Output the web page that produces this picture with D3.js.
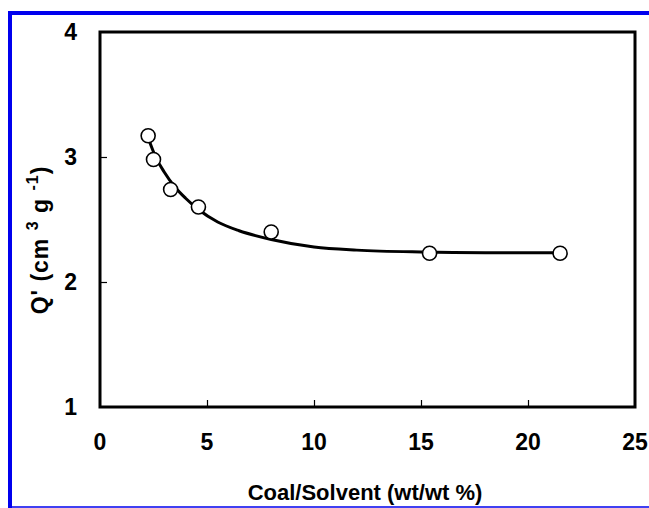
<!DOCTYPE html>
<html>
<head>
<meta charset="utf-8">
<script src="https://cdn.jsdelivr.net/npm/d3@7"></script>
<style>
  body { margin: 0; background: #fff; }
  text { font-family: "Liberation Sans", Arial, sans-serif; font-weight: bold; }
</style>
</head>
<body>
<div id="chart"></div>
<script>
// measured points
var ratio = [2.25, 2.5, 3.3, 4.6, 8.0, 15.4, 21.5];
var qPrime = [3.17, 2.98, 2.74, 2.60, 2.40, 2.23, 2.23];

// fitted curve
var fitX = [2.3, 2.6, 3.0, 3.5, 4.0, 4.6, 5.5, 6.5, 8.0, 10, 12, 15, 18, 21.5];
var fitY = [3.13, 3.00, 2.88, 2.76, 2.67, 2.58, 2.48, 2.41, 2.34, 2.28, 2.255, 2.24, 2.235, 2.235];

var xTicks = [0, 5, 10, 15, 20, 25];
var yTicks = [1, 2, 3, 4];

function main(){
    var canvasWidth = 649;
    var canvasHeight = 508;

    var svg = d3.select("#chart").append("svg")
        .attr("width", canvasWidth)
        .attr("height", canvasHeight);

    // blue frame of the figure
    svg.append("line").attr("x1", 8).attr("x2", canvasWidth).attr("y1", 13).attr("y2", 13)
        .attr("stroke", "#0000ee").attr("stroke-width", 4);
    svg.append("line").attr("x1", 10).attr("x2", 10).attr("y1", 11).attr("y2", canvasHeight)
        .attr("stroke", "#0000ee").attr("stroke-width", 4);
    svg.append("line").attr("x1", 8).attr("x2", canvasWidth).attr("y1", 507).attr("y2", 507)
        .attr("stroke", "#0000ee").attr("stroke-width", 1.5);

    var left = 100, right = 635, top = 32, bottom = 407;

    var xScale = d3.scaleLinear().domain([0, 25]).range([left, right]);
    var yScale = d3.scaleLinear().domain([1, 4]).range([bottom, top]);

    // inner ticks
    svg.append("g")
        .attr("transform", "translate(0," + bottom + ")")
        .call(d3.axisTop(xScale).tickValues(xTicks.slice(1, -1)).tickSize(7).tickFormat(""))
        .call(g => g.select(".domain").remove())
        .selectAll("line").attr("stroke-width", 1.2);

    svg.append("g")
        .attr("transform", "translate(" + left + ",0)")
        .call(d3.axisRight(yScale).tickValues(yTicks.slice(1, -1)).tickSize(7).tickFormat(""))
        .call(g => g.select(".domain").remove())
        .selectAll("line").attr("stroke-width", 1.2);

    // plot frame
    svg.append("rect")
        .attr("x", left).attr("y", top)
        .attr("width", right - left).attr("height", bottom - top)
        .attr("fill", "none").attr("stroke", "#000").attr("stroke-width", 3);

    // tick labels
    svg.selectAll(".xlab").data(xTicks).enter().append("text")
        .attr("class", "xlab")
        .attr("x", d => xScale(d))
        .attr("y", 450)
        .attr("text-anchor", "middle")
        .attr("font-size", "23px")
        .text(d => d);

    svg.selectAll(".ylab").data(yTicks).enter().append("text")
        .attr("class", "ylab")
        .attr("x", 77)
        .attr("y", d => yScale(d) + 8)
        .attr("text-anchor", "end")
        .attr("font-size", "23px")
        .text(d => d);

    // axis titles
    svg.append("text")
        .attr("x", 365).attr("y", 500)
        .attr("text-anchor", "middle")
        .attr("font-size", "22px")
        .text("Coal/Solvent (wt/wt %)");

    var yt = svg.append("text")
        .attr("transform", "translate(48,240) rotate(-90)")
        .attr("text-anchor", "middle")
        .attr("font-size", "23px")
        .attr("letter-spacing", "1px");
    yt.append("tspan").text("Q' (cm ");
    yt.append("tspan").attr("dy", -10).attr("font-size", "16px").text("3");
    yt.append("tspan").attr("dy", 10).text(" g ");
    yt.append("tspan").attr("dy", -10).attr("font-size", "16px").text("-1");
    yt.append("tspan").attr("dy", 10).text(")");

    // fitted curve
    var fit = fitX.map((d, i) => [d, fitY[i]]);
    svg.append("path")
        .datum(fit)
        .attr("fill", "none")
        .attr("stroke", "#000")
        .attr("stroke-width", 3)
        .attr("d", d3.line()
            .x(d => xScale(d[0]))
            .y(d => yScale(d[1]))
            .curve(d3.curveMonotoneX));

    // open circles
    svg.selectAll(".pt").data(ratio).enter().append("circle")
        .attr("class", "pt")
        .attr("cx", d => xScale(d))
        .attr("cy", (d, i) => yScale(qPrime[i]))
        .attr("r", 7)
        .attr("fill", "#fff")
        .attr("stroke", "#000")
        .attr("stroke-width", 1.6);
}

main()
</script>
</body>
</html>
